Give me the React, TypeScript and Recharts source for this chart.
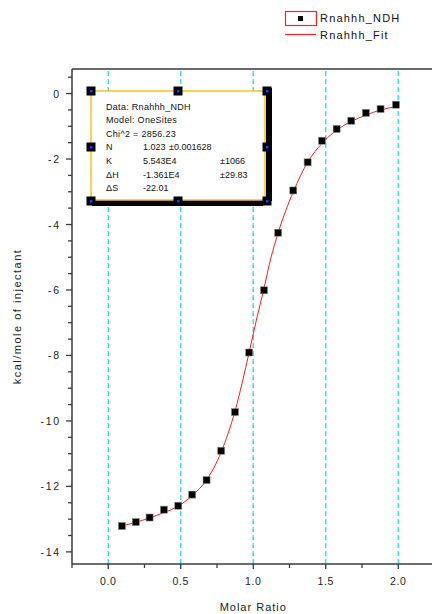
import React from "react";
import { ComposedChart, Line, ReferenceLine, Scatter, XAxis, YAxis } from "recharts";

// measured points (Rnahhh_NDH)
const molarRatio = [0.094, 0.19, 0.285, 0.384, 0.483, 0.579, 0.678, 0.779, 0.874, 0.972, 1.074, 1.172, 1.276, 1.375, 1.474, 1.575, 1.676, 1.777, 1.878, 1.984];
const heat = [-13.21, -13.09, -12.95, -12.71, -12.59, -12.25, -11.81, -10.91, -9.73, -7.91, -6.01, -4.25, -2.96, -2.1, -1.44, -1.08, -0.83, -0.59, -0.47, -0.34];

// fit curve (Rnahhh_Fit)
const fitRatio = [0.094, 0.19, 0.285, 0.384, 0.483, 0.579, 0.678, 0.779, 0.874, 0.972, 1.02, 1.074, 1.12, 1.172, 1.276, 1.375, 1.474, 1.575, 1.676, 1.777, 1.878, 1.984];
const fitHeat = [-13.2, -13.1, -12.96, -12.8, -12.6, -12.28, -11.8, -10.95, -9.7, -7.9, -6.95, -5.95, -5.05, -4.25, -3.0, -2.1, -1.52, -1.12, -0.85, -0.66, -0.5, -0.4];

const xTicks = [-0.25, 0, 0.25, 0.5, 0.75, 1, 1.25, 1.5, 1.75, 2, 2.25];
const xLabels = [0, 0.5, 1, 1.5, 2];
const yTicks = [0.5, 0, -0.5, -1, -1.5, -2, -2.5, -3, -3.5, -4, -4.5, -5, -5.5, -6, -6.5, -7, -7.5, -8, -8.5, -9, -9.5, -10, -10.5, -11, -11.5, -12, -12.5, -13, -13.5, -14];
const yLabels = [0, -2, -4, -6, -8, -10, -12, -14];

const fitStats = [
  { name: "N", value: "1.023", err: "\u00b10.001628", errX: 169 },
  { name: "K", value: "5.543E4", err: "\u00b11066", errX: 220 },
  { name: "\u0394H", value: "-1.361E4", err: "\u00b129.83", errX: 220 },
  { name: "\u0394S", value: "-22.01", err: "", errX: 220 },
];

const points = molarRatio.map((x, i) => ({ x, y: heat[i] }));
const fit = fitRatio.map((x, i) => ({ x, y: fitHeat[i] }));

const AXIS = "#3a3a3a";
const FONT = "'Liberation Sans', Arial, sans-serif";

const BottomTick = (props: any) => {
  const { x, y, payload } = props;
  const major = xLabels.includes(payload.value);
  return (
    <g>
      <line x1={x} x2={x} y1={y} y2={y + (major ? 5 : 4)} stroke={AXIS} strokeWidth={1.3} />
      {major && (
        <text x={x} y={y + 21} textAnchor="middle" fontSize={10.5} fontFamily={FONT} fill="#222" letterSpacing={0.6}>
          {payload.value.toFixed(1)}
        </text>
      )}
    </g>
  );
};

const TopTick = (props: any) => {
  const { x, y } = props;
  return <line x1={x} x2={x} y1={y} y2={y + 5} stroke={AXIS} strokeWidth={1.3} />;
};

const LeftTick = (props: any) => {
  const { x, y, payload } = props;
  const major = yLabels.includes(payload.value);
  return (
    <g>
      <line x1={x - (major ? 6 : 4)} x2={x} y1={y} y2={y} stroke={AXIS} strokeWidth={1.3} />
      {major && (
        <text x={x - 11} y={y + 4} textAnchor="end" fontSize={10.5} fontFamily={FONT} fill="#222" letterSpacing={1.8}>
          {String(payload.value)}
        </text>
      )}
    </g>
  );
};

const RightTick = (props: any) => {
  const { x, y } = props;
  return <line x1={x - 5} x2={x} y1={y} y2={y} stroke={AXIS} strokeWidth={1.3} />;
};

const Square = (props: any) => {
  const { cx, cy } = props;
  return <rect x={cx - 3.5} y={cy - 3.5} width={7} height={7} fill="#000" stroke="#888" strokeWidth={0.6} />;
};

const YTitle = (props: any) => {
  const cy = props.viewBox.y + props.viewBox.height / 2;
  return (
    <text x={18} y={cy} transform={`rotate(-90, 18, ${cy})`} textAnchor="middle" dominantBaseline="middle" fontSize={11} fontFamily={FONT} fill="#222" letterSpacing={1.5}>
      kcal/mole of injectant
    </text>
  );
};

const XTitle = (props: any) => {
  const cx = props.viewBox.x + props.viewBox.width / 2;
  return (
    <text x={cx} y={611} textAnchor="middle" fontSize={11} fontFamily={FONT} fill="#222" letterSpacing={1}>
      Molar Ratio
    </text>
  );
};

const handles = [
  [91, 91], [178, 91], [267, 91],
  [91, 147], [267, 147],
  [91, 201], [178, 201], [267, 201],
];

function Overlay() {
  return (
    <svg width={432} height={614} style={{ position: "absolute", left: 0, top: 0, pointerEvents: "none" }}>
      {/* legend */}
      <rect x={285.5} y={11.5} width={31} height={14} fill="#fff" stroke="#ff2020" strokeWidth={1.2} />
      <rect x={298} y={16} width={5} height={5} fill="#000" />
      <text x={320} y={22} fontSize={11} fontFamily={FONT} fill="#111" letterSpacing={1.2}>Rnahhh_NDH</text>
      <line x1={285} x2={316} y1={34.5} y2={34.5} stroke="#ff2020" strokeWidth={1.2} />
      <text x={320} y={38.5} fontSize={11} fontFamily={FONT} fill="#111" letterSpacing={1.2}>Rnahhh_Fit</text>

      {/* fit result box */}
      <rect x={266} y={88} width={6} height={113} fill="#000" />
      <rect x={92} y={200} width={171} height={6} fill="#000" />
      <rect x={91} y={91} width={174} height={109} fill="#fff" stroke="#f5c518" strokeWidth={1.5} />
      {handles.map(([hx, hy], i) => (
        <g key={i}>
          <rect x={hx - 4.5} y={hy - 4.5} width={9} height={9} fill="#000" />
          <rect x={hx - 1} y={hy - 1} width={2.5} height={2.5} fill="#1a3cff" />
        </g>
      ))}
      <g fontSize={9} fontFamily={FONT} fill="#111" letterSpacing={0.3}>
        <text x={106} y={110}>Data: Rnahhh_NDH</text>
        <text x={106} y={123}>Model: OneSites</text>
        <text x={106} y={136.5}>Chi^2 = 2856.23</text>
        {fitStats.map((s, i) => (
          <g key={s.name}>
            <text x={106} y={150 + i * 13.8}>{s.name}</text>
            <text x={143} y={150 + i * 13.8} letterSpacing={0}>{s.value}</text>
            {s.err && <text x={s.errX} y={150 + i * 13.8} letterSpacing={0}>{s.err}</text>}
          </g>
        ))}
      </g>
    </svg>
  );
}

export default function App() {
  return (
    <div style={{ position: "fixed", left: 0, top: 0, width: 432, height: 614, overflow: "hidden", background: "#fff" }}>
      <ComposedChart width={445} height={614} margin={{ top: 68, left: 0, right: 9.5, bottom: 0 }}>
        <XAxis
          dataKey="x"
          type="number"
          domain={[-0.25, 2.25]}
          ticks={xTicks}
          interval={0}
          height={50}
          tickSize={0}
          tickMargin={0}
          tick={<BottomTick />}
          stroke={AXIS}
          strokeWidth={1.5}
          label={<XTitle />}
        />
        <XAxis
          xAxisId="top"
          orientation="top"
          dataKey="x"
          type="number"
          domain={[-0.25, 2.25]}
          ticks={xTicks}
          interval={0}
          height={1}
          tickSize={0}
          tickMargin={0}
          tick={<TopTick />}
          stroke={AXIS}
          strokeWidth={1.5}
        />
        <YAxis
          type="number"
          domain={[-14.37, 0.75]}
          ticks={yTicks}
          interval={0}
          width={72}
          tickSize={0}
          tickMargin={0}
          tick={<LeftTick />}
          stroke={AXIS}
          strokeWidth={1.5}
          label={<YTitle />}
        />
        <YAxis
          yAxisId="right"
          orientation="right"
          type="number"
          domain={[-14.37, 0.75]}
          ticks={yLabels}
          interval={0}
          width={1}
          tickSize={0}
          tickMargin={0}
          tick={<RightTick />}
          stroke={AXIS}
          strokeWidth={1.5}
        />
        {xLabels.map((v) => (
          <ReferenceLine key={v} x={v} stroke="#2ee6ef" strokeWidth={1.5} strokeDasharray="5 3" />
        ))}
        <Line data={fit} dataKey="y" type="monotone" stroke="#ff1a1a" strokeWidth={1} dot={false} isAnimationActive={false} />
        <Scatter data={points} dataKey="y" shape={<Square />} isAnimationActive={false} />
      </ComposedChart>
      <Overlay />
    </div>
  );
}
